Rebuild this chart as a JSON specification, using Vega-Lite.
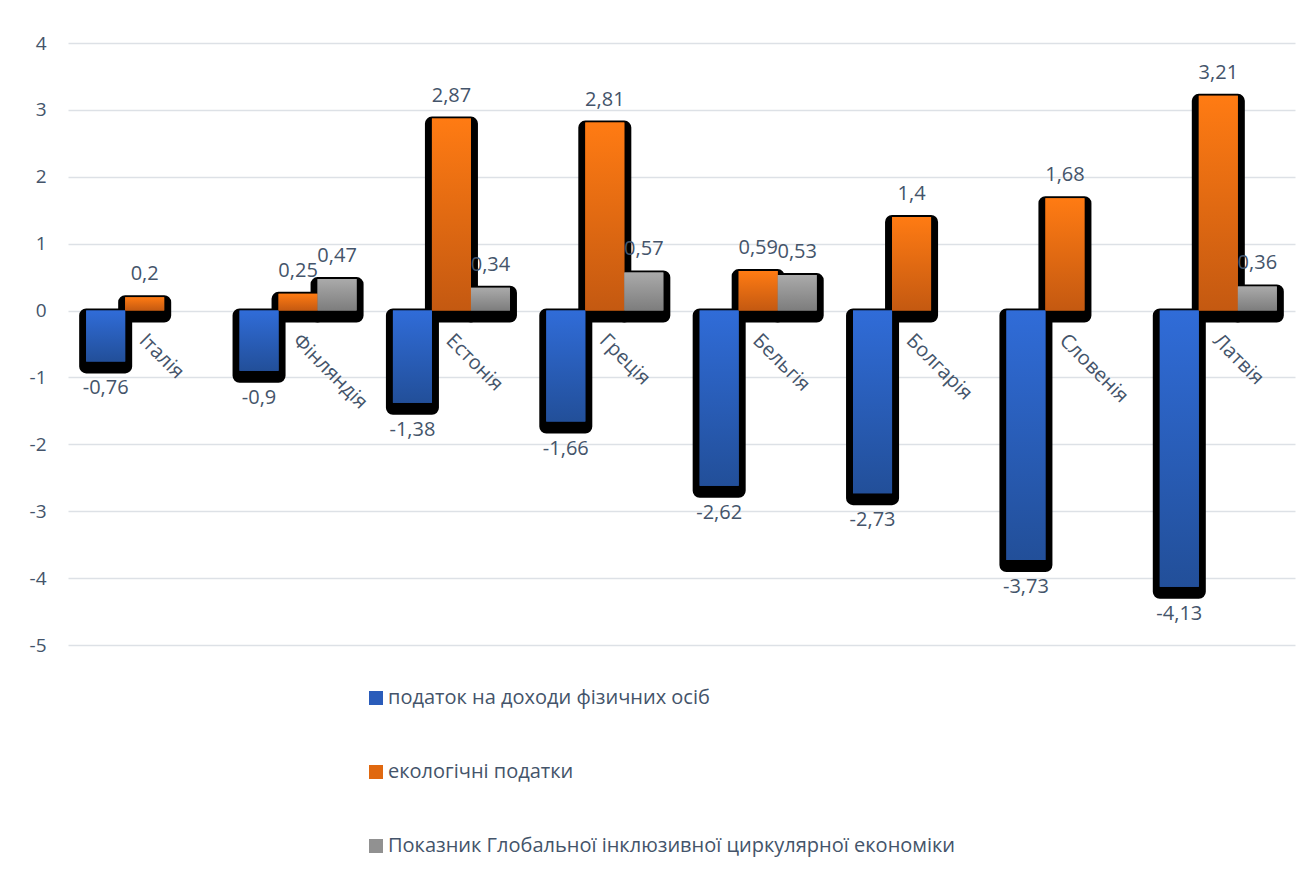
{
  "$schema": "https://vega.github.io/schema/vega-lite/v6.json",
  "width": 1227,
  "height": 602,
  "autosize": {"type": "none"},
  "padding": {"left": 68, "top": 43, "right": 17, "bottom": 226},
  "background": "white",
  "config": {
    "locale": {"number": {"decimal": ",", "thousands": " ", "grouping": [3], "currency": ["", ""], "minus": "-"}},
    "font": "Open Sans",
    "view": {"stroke": null}
  },
  "data": {"values": [
    {"country": "Італія", "series": "податок на доходи фізичних осіб", "value": -0.76},
    {"country": "Італія", "series": "екологічні податки", "value": 0.2},
    {"country": "Фінляндія", "series": "податок на доходи фізичних осіб", "value": -0.9},
    {"country": "Фінляндія", "series": "екологічні податки", "value": 0.25},
    {"country": "Фінляндія", "series": "Показник Глобальної інклюзивної циркулярної економіки", "value": 0.47},
    {"country": "Естонія", "series": "податок на доходи фізичних осіб", "value": -1.38},
    {"country": "Естонія", "series": "екологічні податки", "value": 2.87},
    {"country": "Естонія", "series": "Показник Глобальної інклюзивної циркулярної економіки", "value": 0.34},
    {"country": "Греція", "series": "податок на доходи фізичних осіб", "value": -1.66},
    {"country": "Греція", "series": "екологічні податки", "value": 2.81},
    {"country": "Греція", "series": "Показник Глобальної інклюзивної циркулярної економіки", "value": 0.57},
    {"country": "Бельгія", "series": "податок на доходи фізичних осіб", "value": -2.62},
    {"country": "Бельгія", "series": "екологічні податки", "value": 0.59},
    {"country": "Бельгія", "series": "Показник Глобальної інклюзивної циркулярної економіки", "value": 0.53},
    {"country": "Болгарія", "series": "податок на доходи фізичних осіб", "value": -2.73},
    {"country": "Болгарія", "series": "екологічні податки", "value": 1.4},
    {"country": "Словенія", "series": "податок на доходи фізичних осіб", "value": -3.73},
    {"country": "Словенія", "series": "екологічні податки", "value": 1.68},
    {"country": "Латвія", "series": "податок на доходи фізичних осіб", "value": -4.13},
    {"country": "Латвія", "series": "екологічні податки", "value": 3.21},
    {"country": "Латвія", "series": "Показник Глобальної інклюзивної циркулярної економіки", "value": 0.36}
  ]},
  "encoding": {
    "x": {
      "field": "country", "type": "nominal",
      "sort": ["Італія", "Фінляндія", "Естонія", "Греція", "Бельгія", "Болгарія", "Словенія", "Латвія"],
      "scale": {"paddingInner": 0.237, "paddingOuter": 0.1185},
      "axis": null
    },
    "y": {
      "field": "value", "type": "quantitative",
      "scale": {"domain": [-5, 4], "nice": false, "zero": false},
      "axis": {
        "title": null, "values": [-5, -4, -3, -2, -1, 0, 1, 2, 3, 4], "format": "d",
        "domain": false, "ticks": false, "labelPadding": 22,
        "labelFontSize": 19, "labelColor": "#44546a", "labelFont": "Open Sans",
        "gridColor": "#dde1e6", "gridWidth": 1.3
      }
    }
  },
  "layer": [
    {
      "mark": {"type": "bar", "fill": "black", "stroke": "black", "strokeWidth": 14, "strokeJoin": "round", "yOffset": 5, "y2Offset": 5},
      "encoding": {
        "xOffset": {"field": "series", "type": "nominal", "scale": {"domain": ["податок на доходи фізичних осіб", "екологічні податки", "Показник Глобальної інклюзивної циркулярної економіки"], "paddingInner": 0, "paddingOuter": 0}}
      }
    },
    {
      "mark": {"type": "bar"},
      "encoding": {
        "xOffset": {"field": "series", "type": "nominal", "scale": {"domain": ["податок на доходи фізичних осіб", "екологічні податки", "Показник Глобальної інклюзивної циркулярної економіки"]}},
        "color": {
          "field": "series", "type": "nominal",
          "scale": {"domain": ["податок на доходи фізичних осіб", "екологічні податки", "Показник Глобальної інклюзивної циркулярної економіки"], "range": ["#2a5cba", "#e0680f", "#919191"]},
          "legend": {
            "title": null, "orient": "none", "legendX": 298, "legendY": 645, "direction": "vertical",
            "symbolType": "square", "symbolSize": 196, "symbolStrokeWidth": 0, "symbolOpacity": 1,
            "labelFontSize": 20, "labelColor": "#44546a", "labelFont": "Open Sans", "labelLimit": 900,
            "rowPadding": 54, "labelOffset": 2
          }
        }
      }
    },
    {
      "transform": [{"filter": "datum.series === 'податок на доходи фізичних осіб'"}],
      "mark": {"type": "bar", "fill": {"gradient": "linear", "x1": 0, "y1": 0, "x2": 0, "y2": 1, "stops": [{"offset": 0, "color": "#306cd8"}, {"offset": 1, "color": "#224f99"}]}},
      "encoding": {
        "xOffset": {"field": "series", "type": "nominal", "scale": {"domain": ["податок на доходи фізичних осіб", "екологічні податки", "Показник Глобальної інклюзивної циркулярної економіки"]}}
      }
    },
    {
      "transform": [{"filter": "datum.series === 'екологічні податки'"}],
      "mark": {"type": "bar", "fill": {"gradient": "linear", "x1": 0, "y1": 0, "x2": 0, "y2": 1, "stops": [{"offset": 0, "color": "#ff7b13"}, {"offset": 1, "color": "#c45911"}]}},
      "encoding": {
        "xOffset": {"field": "series", "type": "nominal", "scale": {"domain": ["податок на доходи фізичних осіб", "екологічні податки", "Показник Глобальної інклюзивної циркулярної економіки"]}}
      }
    },
    {
      "transform": [{"filter": "datum.series === 'Показник Глобальної інклюзивної циркулярної економіки'"}],
      "mark": {"type": "bar", "fill": {"gradient": "linear", "x1": 0, "y1": 0, "x2": 0, "y2": 1, "stops": [{"offset": 0, "color": "#aaaaaa"}, {"offset": 1, "color": "#7d7d7d"}]}},
      "encoding": {
        "xOffset": {"field": "series", "type": "nominal", "scale": {"domain": ["податок на доходи фізичних осіб", "екологічні податки", "Показник Глобальної інклюзивної циркулярної економіки"]}}
      }
    },
    {
      "transform": [{"filter": "datum.value > 0"}],
      "mark": {"type": "text", "baseline": "bottom", "dy": -13, "fontSize": 20, "color": "#44546a", "font": "Open Sans"},
      "encoding": {
        "xOffset": {"field": "series", "type": "nominal", "scale": {"domain": ["податок на доходи фізичних осіб", "екологічні податки", "Показник Глобальної інклюзивної циркулярної економіки"]}},
        "text": {"field": "value", "type": "quantitative", "format": "~g"}
      }
    },
    {
      "transform": [{"filter": "datum.value < 0"}],
      "mark": {"type": "text", "baseline": "top", "dy": 17, "fontSize": 20, "color": "#44546a", "font": "Open Sans"},
      "encoding": {
        "xOffset": {"field": "series", "type": "nominal", "scale": {"domain": ["податок на доходи фізичних осіб", "екологічні податки", "Показник Глобальної інклюзивної циркулярної економіки"]}},
        "text": {"field": "value", "type": "quantitative", "format": "~g"}
      }
    },
    {
      "transform": [{"filter": "datum.series === 'податок на доходи фізичних осіб'"}],
      "mark": {"type": "text", "align": "left", "baseline": "top", "angle": 45, "fontSize": 20, "color": "#44546a", "font": "Open Sans", "yOffset": 20, "xOffset": 5},
      "encoding": {
        "y": {"datum": 0},
        "text": {"field": "country", "type": "nominal"}
      }
    }
  ]
}
